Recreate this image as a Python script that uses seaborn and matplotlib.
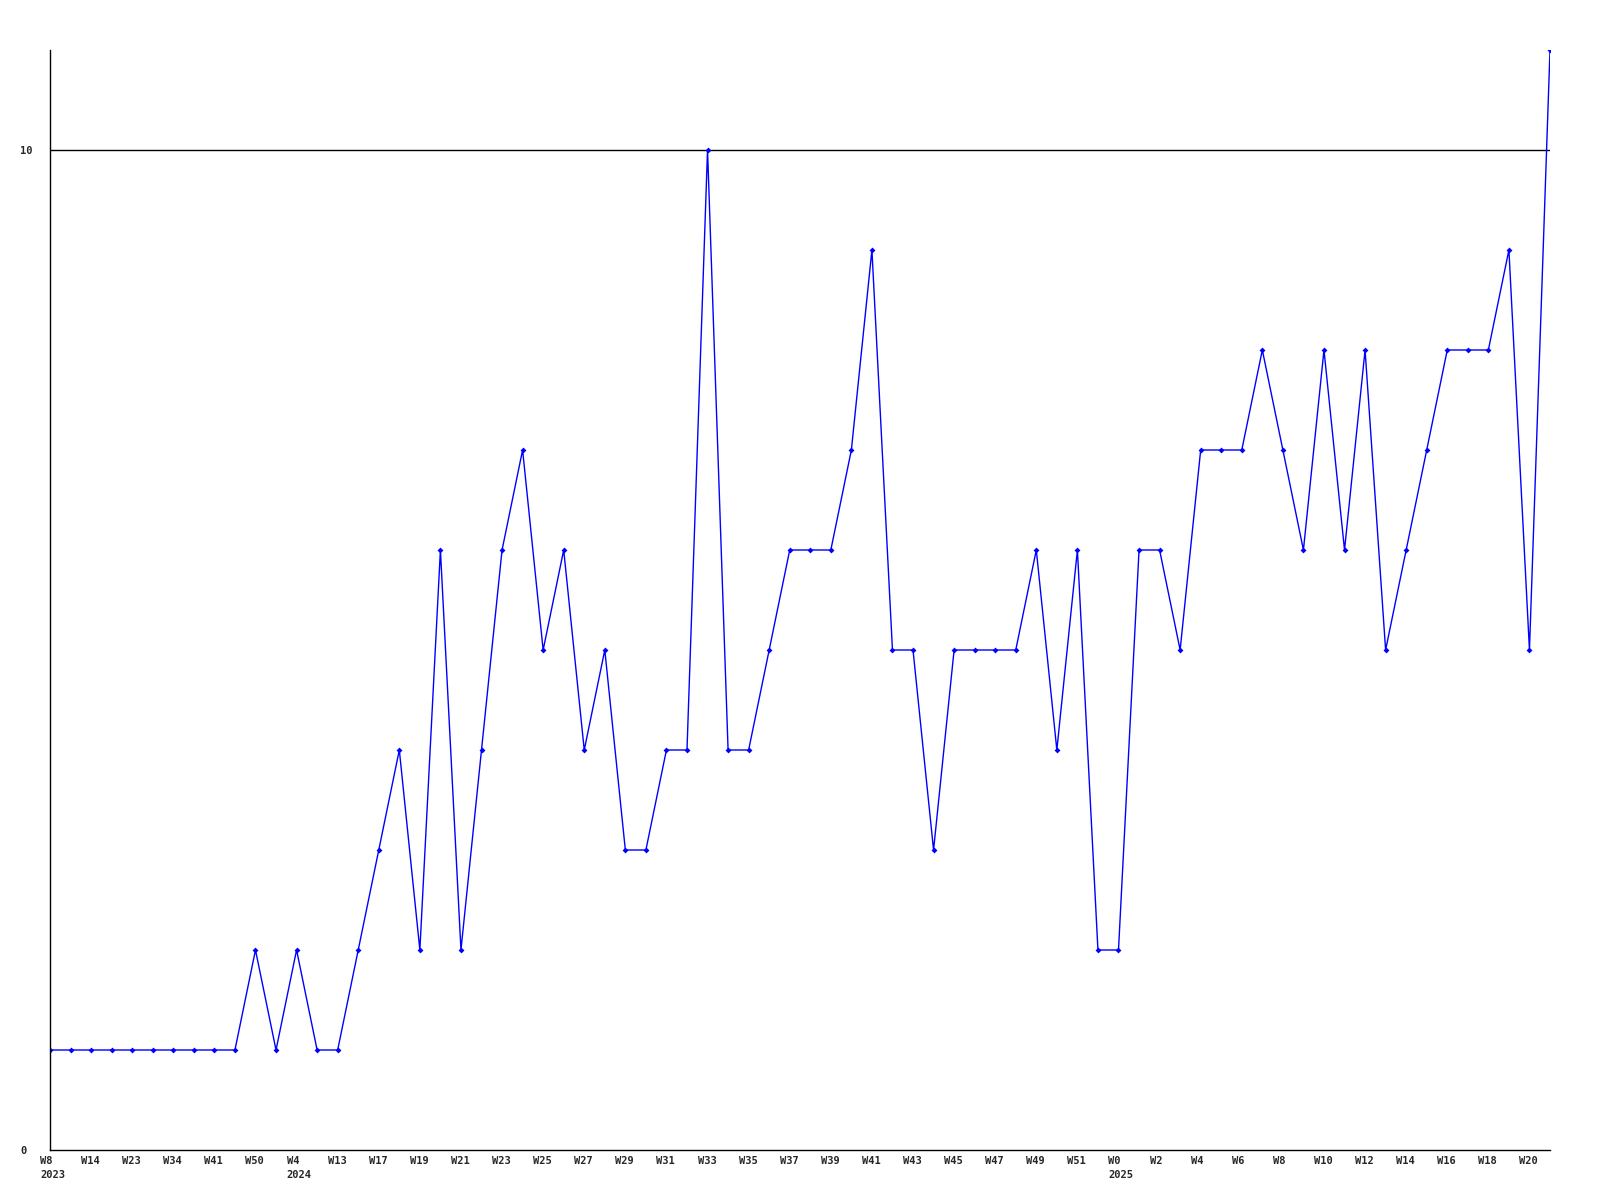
import matplotlib
matplotlib.use("Agg")
import matplotlib.pyplot as plt
import matplotlib.transforms as mtransforms
import seaborn as sns
import pandas as pd

values = [1, 1, 1, 1, 1, 1, 1, 1, 1, 1,
          2, 1, 2, 1, 1, 2, 3, 4, 2, 6,
          2, 4, 6, 7, 5, 6, 4, 5, 3, 3,
          4, 4, 10, 4, 4, 5, 6, 6, 6, 7,
          9, 5, 5, 3, 5, 5, 5, 5, 6, 4,
          6, 2, 2, 6, 6, 5, 7, 7, 7, 8,
          7, 6, 8, 6, 8, 5, 6, 7, 8, 8,
          8, 9, 5, 11]

tick_labels = ["W8\n2023", "W14", "W23", "W34", "W41", "W50", "W4\n2024", "W13",
               "W17", "W19", "W21", "W23", "W25", "W27", "W29", "W31", "W33",
               "W35", "W37", "W39", "W41", "W43", "W45", "W47", "W49", "W51",
               "W0\n2025", "W2", "W4", "W6", "W8", "W10", "W12", "W14", "W16",
               "W18", "W20"]

y_ticks = [0, 10]

df = pd.DataFrame({"idx": range(len(values)), "value": values})

sns.set_style("white")
plt.rcParams['font.family'] = ['DejaVu Sans Mono', 'DejaVu Sans']

fig = plt.figure(figsize=(16, 12), dpi=100)
ax = fig.add_axes([50 / 1600, 50 / 1200, 1500 / 1600, 1100 / 1200])

sns.lineplot(data=df, x="idx", y="value", ax=ax, color="#0000ff", linewidth=1.0,
             marker="D", markersize=3, markeredgewidth=0, clip_on=True)

ax.axhline(10, color="black", linewidth=1.0, zorder=0)

ax.set_xlim(0, len(values) - 1)
ax.set_ylim(0, 11)

ax.tick_params(axis="y", length=0, pad=21.6)
ax.tick_params(axis="x", length=0, pad=4)

ax.set_xticks(range(0, len(values), 2))
ax.set_xticklabels(tick_labels, fontsize=7.5, fontweight="bold", ha="left",
                   linespacing=1.6, va="top")

ax.set_yticks(y_ticks)
ax.set_yticklabels([str(t) for t in y_ticks], fontsize=7.5, fontweight="bold", ha="left")

ax.set_xlabel("")
ax.set_ylabel("")
for side in ["top", "right"]:
    ax.spines[side].set_visible(False)
for side in ["left", "bottom"]:
    ax.spines[side].set_color("black")
    ax.spines[side].set_linewidth(1.0)

ax.grid(False)

offset = mtransforms.ScaledTranslation(-10 / 100, 0, fig.dpi_scale_trans)
for lbl in ax.get_xticklabels():
    lbl.set_transform(lbl.get_transform() + offset)

fig.savefig("out.png", dpi=100, facecolor="white")
